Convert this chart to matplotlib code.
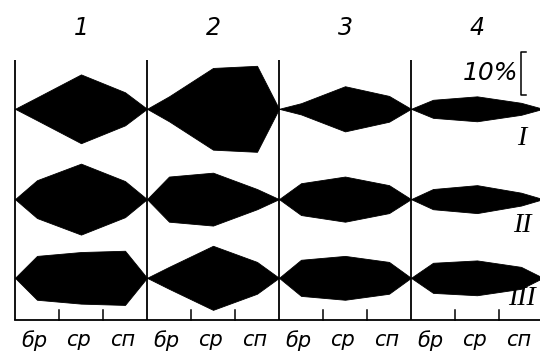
import matplotlib
matplotlib.use("Agg")
import matplotlib.pyplot as plt
import numpy as np

# Zones along each transect and the four sampling stations
zones = ["бр", "ср", "сп"]
stations = ["1", "2", "3", "4"]
groups = ["I", "II", "III"]

# Abundance (% of total) per zone, station by station, for each group
group_I = [[5.3, 16.0, 7.7], [5.8, 19.0, 20.0], [2.6, 10.5, 6.0], [4.2, 5.8, 2.8]]
group_II = [[8.8, 16.5, 8.4], [10.5, 12.3, 4.7], [7.4, 10.5, 6.5], [4.7, 6.5, 3.0]]
group_III = [[10.2, 12.0, 12.6], [5.1, 14.9, 7.4], [8.4, 10.2, 7.4], [7.0, 8.1, 5.1]]
scale_pct = 10

series = [group_I, group_II, group_III]
row_centre = [49.1, 28.1, 9.8]
zone_pos = [1 / 6, 1 / 2, 5 / 6]

hand = dict(family=["Liberation Sans Narrow", "DejaVu Sans"], style="italic")
roman = dict(family=["Liberation Serif", "DejaVu Serif"], style="italic")

fig = plt.figure(figsize=(5.4, 3.58), dpi=100)
ax = fig.add_axes([0, 0, 1, 1])
ax.set_xlim(-0.1136, 3.977)
ax.set_ylim(-8.84, 74.4)
ax.axis("off")

# kites
for r, data in enumerate(series):
    c = row_centre[r]
    for s, vals in enumerate(data):
        x = s + np.array([0.0] + zone_pos + [1.0])
        w = np.array([0.0] + list(vals) + [0.0])
        ax.fill_between(x, c - w / 2, c + w / 2, color="black", lw=0.6,
                        edgecolor="black")

# frame: station dividers, base line and zone ticks
for s in range(len(stations)):
    ax.plot([s, s], [0, 60.5], color="black", lw=1.3, solid_capstyle="butt")
    for t in (1 / 3, 2 / 3):
        ax.plot([s + t, s + t], [0, 2.4], color="black", lw=1.1)
    ax.text(s + 0.5, 68.0, stations[s], ha="center", va="center",
            fontsize=17, **hand)
    for z, name in enumerate(zones):
        ax.text(s + zone_pos[z] - 0.02, -4.7, name, ha="center", va="center",
                fontsize=15, **hand)
ax.plot([0, 4.1], [0, 0], color="black", lw=1.3)

# group labels
for g, y in zip(groups, [42.1, 21.9, 4.9]):
    ax.text(3.84, y, g, ha="center", va="center", fontsize=20, **roman)

# scale bar
sb_x, sb_y = 3.83, 52.3
ax.plot([sb_x + 0.04, sb_x, sb_x, sb_x + 0.04],
        [sb_y, sb_y, sb_y + scale_pct, sb_y + scale_pct], color="black", lw=1.1)
ax.text(sb_x - 0.02, 57.4, f"{scale_pct}%", ha="right", va="center",
        fontsize=18, **hand)

fig.savefig("out.png", dpi=100)
